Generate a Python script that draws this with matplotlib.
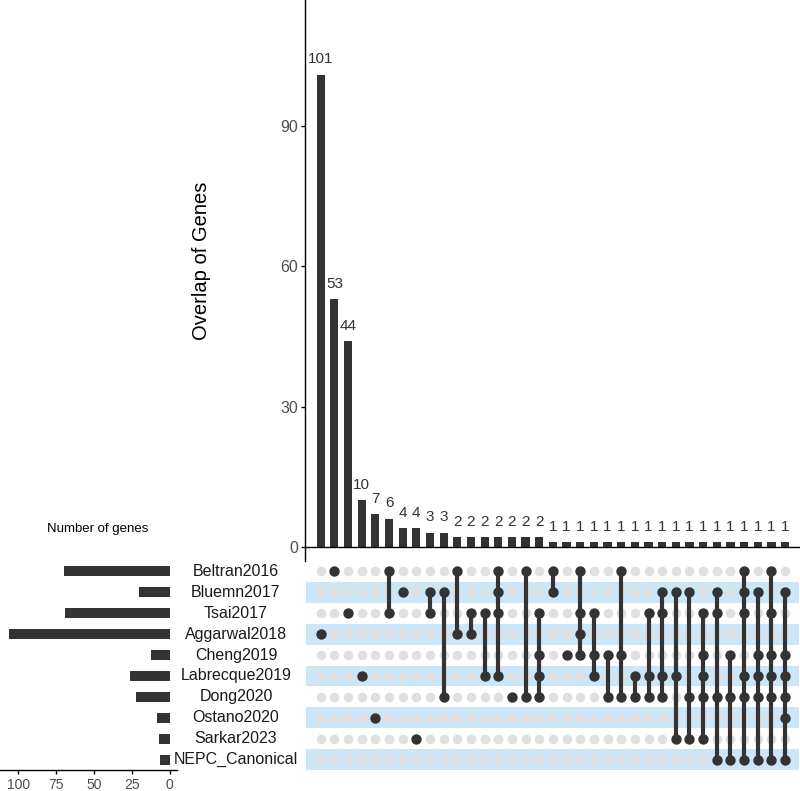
import matplotlib
matplotlib.use('Agg')
import matplotlib.pyplot as plt
from matplotlib import transforms

plt.rcParams['font.family'] = ['Liberation Sans', 'DejaVu Sans']

# sets, top to bottom in the matrix
set_names = ['Beltran2016', 'Bluemn2017', 'Tsai2017', 'Aggarwal2018', 'Cheng2019',
             'Labrecque2019', 'Dong2020', 'Ostano2020', 'Sarkar2023', 'NEPC_Canonical']
set_sizes = [70, 20, 69, 106, 12, 26, 22, 8, 7, 6]

# intersection sizes, in plotted order
counts = [101, 53, 44, 10, 7, 6, 4, 4, 3, 3,
          2, 2, 2, 2, 2, 2, 2,
          1, 1, 1, 1, 1, 1, 1, 1, 1, 1, 1, 1, 1, 1, 1, 1, 1, 1]

# which sets take part in each intersection
members = [
    ['Aggarwal2018'],
    ['Beltran2016'],
    ['Tsai2017'],
    ['Labrecque2019'],
    ['Ostano2020'],
    ['Beltran2016', 'Tsai2017'],
    ['Bluemn2017'],
    ['Sarkar2023'],
    ['Bluemn2017', 'Tsai2017'],
    ['Bluemn2017', 'Dong2020'],
    ['Beltran2016', 'Aggarwal2018'],
    ['Tsai2017', 'Aggarwal2018'],
    ['Tsai2017', 'Labrecque2019'],
    ['Beltran2016', 'Bluemn2017', 'Tsai2017', 'Labrecque2019'],
    ['Dong2020'],
    ['Beltran2016', 'Dong2020'],
    ['Tsai2017', 'Cheng2019', 'Labrecque2019', 'Dong2020'],
    ['Beltran2016', 'Bluemn2017'],
    ['Cheng2019'],
    ['Beltran2016', 'Tsai2017', 'Aggarwal2018', 'Cheng2019'],
    ['Tsai2017', 'Cheng2019', 'Labrecque2019'],
    ['Cheng2019', 'Dong2020'],
    ['Beltran2016', 'Cheng2019', 'Dong2020'],
    ['Labrecque2019', 'Dong2020'],
    ['Tsai2017', 'Labrecque2019', 'Dong2020'],
    ['Bluemn2017', 'Tsai2017', 'Labrecque2019', 'Dong2020'],
    ['Bluemn2017', 'Labrecque2019', 'Sarkar2023'],
    ['Bluemn2017', 'Dong2020', 'Sarkar2023'],
    ['Tsai2017', 'Cheng2019', 'Labrecque2019', 'Dong2020', 'Sarkar2023'],
    ['Bluemn2017', 'Tsai2017', 'Dong2020', 'NEPC_Canonical'],
    ['Cheng2019', 'Dong2020', 'NEPC_Canonical'],
    ['Beltran2016', 'Bluemn2017', 'Tsai2017', 'Labrecque2019', 'Dong2020', 'NEPC_Canonical'],
    ['Bluemn2017', 'Cheng2019', 'Labrecque2019', 'Dong2020', 'NEPC_Canonical'],
    ['Beltran2016', 'Tsai2017', 'Cheng2019', 'Labrecque2019', 'Dong2020', 'NEPC_Canonical'],
    ['Bluemn2017', 'Cheng2019', 'Labrecque2019', 'Dong2020', 'Ostano2020', 'NEPC_Canonical'],
]

DARK = '#333333'
LIGHT = '#e0e0e0'
STRIPE = '#cde6f7'
TICK_COLOR = '#4d4d4d'

W, H = 800, 791


def px_box(x0, y0, x1, y1):
    # pixel box (top-left origin) -> figure fraction rect
    return [x0 / W, 1 - y1 / H, (x1 - x0) / W, (y1 - y0) / H]


fig = plt.figure(figsize=(W / 100, H / 100), dpi=100)
ax_set = fig.add_axes(px_box(0, 561, 177, 770))
ax_bar = fig.add_axes(px_box(305, 0, 800, 561))
ax_mat = fig.add_axes(px_box(305, 561, 800, 770))
ax_set.patch.set_alpha(0)

n_cols = len(counts)
n_rows = len(set_names)
cols = list(range(n_cols))
xlim = (-1.15, 35.09)

# intersection bars
ax_bar.bar(cols, counts, width=0.6, color=DARK, zorder=2)
for i, c in enumerate(counts):
    ax_bar.annotate(str(c), (i, c), xytext=(0, 6), textcoords='offset points',
                    ha='center', va='bottom', fontsize=11, color=DARK)
ax_bar.axhline(0, color='black', lw=1, zorder=3)
ax_bar.set_xlim(*xlim)
ax_bar.set_ylim(-3.06, 117)
ax_bar.set_yticks([0, 30, 60, 90])
ax_bar.set_xticks([])
for s in ['top', 'right', 'bottom']:
    ax_bar.spines[s].set_visible(False)
ax_bar.spines['left'].set_linewidth(1)
ax_bar.tick_params(axis='y', length=3, width=1, pad=2, labelsize=11.5, labelcolor=TICK_COLOR)
ax_bar.set_ylabel('Overlap of Genes', fontsize=14.5)
ax_bar.yaxis.set_label_coords(-0.19, 0.535)

# matrix
for r in range(n_rows):
    if r % 2 == 1:
        ax_mat.axhspan(r - 0.5, r + 0.5, xmin=0.003, xmax=0.997, color=STRIPE, lw=0, zorder=0)
for i, mem in enumerate(members):
    rows_in = [set_names.index(m) for m in mem]
    rows_out = [r for r in range(n_rows) if r not in rows_in]
    ax_mat.scatter([i] * len(rows_out), rows_out, s=48, color=LIGHT, lw=0, zorder=1)
    if len(rows_in) > 1:
        ax_mat.plot([i, i], [min(rows_in), max(rows_in)], color=DARK, lw=3, zorder=2,
                    solid_capstyle='butt')
    ax_mat.scatter([i] * len(rows_in), rows_in, s=56, color=DARK, lw=0, zorder=3)
ax_mat.set_xlim(*xlim)
ax_mat.set_ylim(n_rows - 0.5, -0.5)
ax_mat.axis('off')

# set names, centred between the two panels
trans = transforms.blended_transform_factory(fig.transFigure, ax_mat.transData)
for r, name in enumerate(set_names):
    ax_mat.text(236 / W, r, name, transform=trans, ha='center', va='center',
                fontsize=11.5, color='#1a1a1a', clip_on=False)

# set sizes
ax_set.barh(range(n_rows), set_sizes, height=0.48, color=DARK)
ax_set.set_xlim(112, -4.9)
ax_set.set_ylim(n_rows - 0.5, -0.5)
ax_set.set_xticks([100, 75, 50, 25, 0])
ax_set.set_yticks([])
for s in ['top', 'right', 'left']:
    ax_set.spines[s].set_visible(False)
ax_set.spines['bottom'].set_linewidth(1)
ax_set.tick_params(axis='x', length=3, width=1, pad=2.5, labelsize=10, labelcolor=TICK_COLOR)
fig.text(98 / W, 1 - 529 / H, 'Number of genes', ha='center', va='center', fontsize=9.5)

fig.savefig('out.png', dpi=100)
